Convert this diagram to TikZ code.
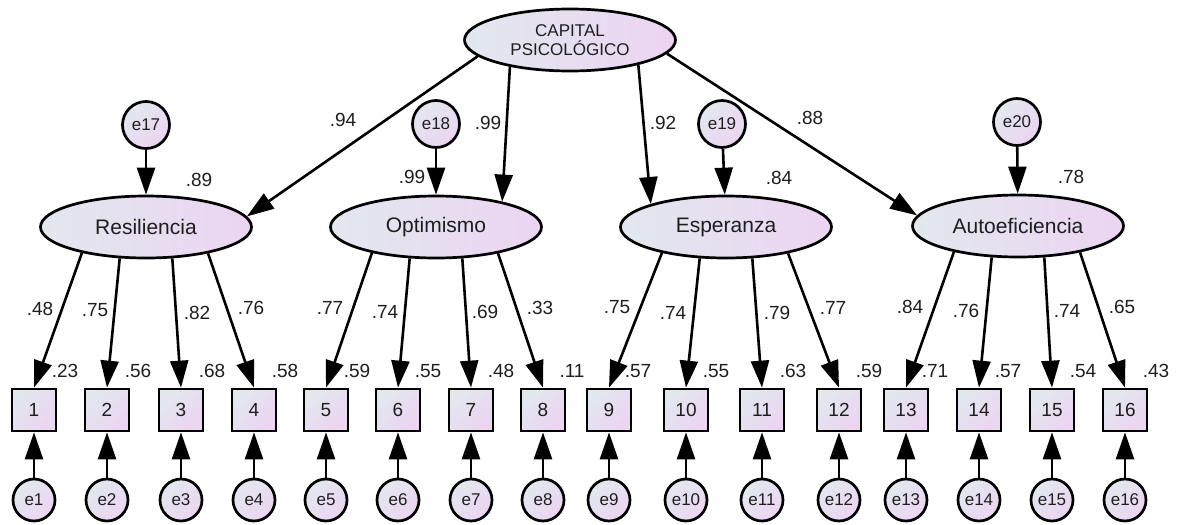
\documentclass[tikz,border=0pt]{standalone}
\usepackage{fontspec}
\setmainfont{Liberation Sans}
\usetikzlibrary{shapes.geometric,arrows.meta}
\definecolor{gA}{RGB}{226,232,238}
\definecolor{gB}{RGB}{236,212,242}
\definecolor{txt}{RGB}{30,30,30}
\tikzset{
  lat/.style={ellipse, draw, line width=2.7pt, minimum width=211pt, minimum height=62pt,
    inner sep=0pt, left color=gA, right color=gB, font=\fontsize{21}{24}\selectfont, text=txt},
  capn/.style={lat, font=\fontsize{17}{19}\selectfont, align=center},
  obs/.style={rectangle, draw, line width=2.7pt, minimum width=44pt, minimum height=42pt,
    inner sep=0pt, top color=gA, bottom color=gB, shading angle=45,
    font=\fontsize{19}{22}\selectfont, text=txt},
  errbig/.style={circle, draw, line width=2.7pt, minimum size=47pt, inner sep=0pt,
    top color=gA, bottom color=gB, shading angle=45, font=\fontsize{17}{20}\selectfont, text=txt},
  errsm/.style={errbig, minimum size=42pt},
  coef/.style={font=\fontsize{19}{22}\selectfont, text=txt, inner sep=0pt},
  arr/.style={line width=2.6pt, -{Triangle[length=27pt,width=18pt]}},
}
\begin{document}
\begin{tikzpicture}[x=1pt,y=-1pt]
\useasboundingbox (0,0) rectangle (1179,525);
% latent variables
\node[capn] (cap) at (570,40) {CAPITAL\\PSICOLÓGICO};
\node[lat] (res) at (146,227) {Resiliencia};
\node[lat] (opt) at (436,227) {Optimismo};
\node[lat] (esp) at (726,227) {Esperanza};
\node[lat] (aut) at (1018,226) {Autoeficiencia};
% disturbances
\node[errbig] (e17) at (146,125) {e17};
\node[errbig] (e18) at (436,124) {e18};
\node[errbig] (e19) at (722,124) {e19};
\node[errbig] (e20) at (1017,122) {e20};
\draw[arr] (e17) -- (res);
\draw[arr] (e18) -- (opt);
\draw[arr] (e19) -- (esp);
\draw[arr] (e20) -- (aut);
% second-order paths
\draw[arr] (cap.190) -- (res.6);
\draw[arr] (cap.204) -- (opt.21);
\draw[arr] (cap.340) -- (esp.163);
\draw[arr] (cap.352) -- (aut.174);
% indicators and errors
\foreach \i/\x in {1/34,2/107,3/181,4/254,5/326,6/398,7/471,8/543,
                   9/609,10/686,11/762,12/839,13/906,14/979,15/1052,16/1125} {
  \node[obs] (b\i) at (\x,410) {\i};
  \node[errsm] (e\i) at (\x,500) {e\i};
  \draw[arr] (e\i) -- (b\i);
}
% loadings
\foreach \lv/\a/\b/\c/\d in {res/1/2/3/4, opt/5/6/7/8, esp/9/10/11/12, aut/13/14/15/16} {
  \draw[arr] (\lv.202) -- (b\a.north);
  \draw[arr] (\lv.230) -- (b\b.north);
  \draw[arr] (\lv.310) -- (b\c.north);
  \draw[arr] (\lv.337) -- (b\d.north);
}
% coefficients
\foreach \n/\x/\y/\t in {
  g1/343/120/.94, g2/488/123/.99, g3/663/123/.92, g4/810/118/.88,
  r1/199/180/.89, r2/412/177/.99, r3/779/178/.84, r4/1071/177/.78,
  l1/40/309/.48, l2/95/310/.75, l3/197/313/.82, l4/251/308/.76,
  l5/330/308/.77, l6/385/312/.74, l7/485/312/.69, l8/540/308/.33,
  l9/617/307/.75, l10/673/313/.74, l11/777/313/.79, l12/833/308/.77,
  l13/910/307/.84, l14/966/311/.76, l15/1067/311/.74, l16/1122/307/.65,
  q1/65/371/.23, q2/138/371/.56, q3/212/371/.68, q4/285/371/.58,
  q5/357/371/.59, q6/428/371/.55, q7/501/371/.48, q8/572/371/.11,
  q9/638/371/.57, q10/716/371/.55, q11/793/371/.63, q12/869/371/.59,
  q13/935/371/.71, q14/1008/371/.57, q15/1083/371/.54, q16/1156/371/.43} {
  \node[coef] (\n) at (\x,\y) {\t};
}
\end{tikzpicture}
\end{document}
